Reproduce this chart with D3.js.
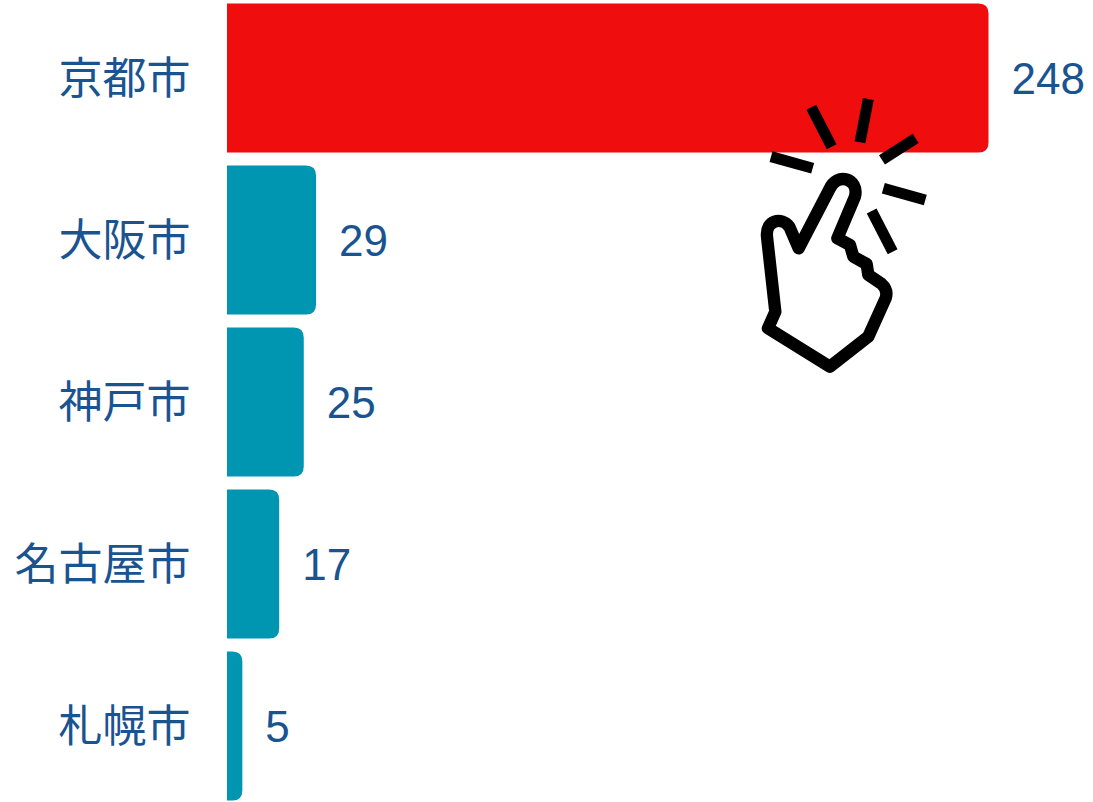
<!DOCTYPE html>
<html>
<head>
<meta charset="utf-8">
<script src="https://cdn.jsdelivr.net/npm/d3@7/dist/d3.min.js"></script>
<style>
    html, body { margin: 0; padding: 0; background: #fff; overflow: hidden; }
    svg { display: block; }
    text { font-family: "Liberation Sans", "Noto Sans CJK JP", sans-serif; }
</style>
</head>
<body>
<svg id="chart" width="1093" height="802"></svg>
<script>
var cities = ['京都市', '大阪市', '神戸市', '名古屋市', '札幌市'];
var counts = [248, 29, 25, 17, 5];
var highlighted = ['京都市'];

var textColor = '#1a5490',
    barColor = '#0096b2',
    highlightColor = '#ef0d0d',
    fontSize = 44,
    radius = 10;

var svg = d3.select('#chart');

var x = d3.scaleLinear().domain([0, 248]).range([227, 988.5]);
var y = d3.scaleBand().domain(cities).range([3.5, 800.5]).paddingInner(0.08);

// bar with only the right corners rounded
function barPath(value, city) {
    var x0 = x(0), x1 = x(value), y0 = y(city), y1 = y0 + y.bandwidth();
    var r = Math.min(radius, x1 - x0);
    return 'M' + x0 + ',' + y0 +
        'H' + (x1 - r) +
        'Q' + x1 + ',' + y0 + ' ' + x1 + ',' + (y0 + r) +
        'V' + (y1 - r) +
        'Q' + x1 + ',' + y1 + ' ' + (x1 - r) + ',' + y1 +
        'H' + x0 + 'Z';
}

svg.append('g').selectAll('path')
    .data(cities)
    .enter().append('path')
    .attr('d', function (d, i) { return barPath(counts[i], d); })
    .attr('fill', function (d) { return highlighted.indexOf(d) >= 0 ? highlightColor : barColor; });

var axis = svg.append('g')
    .attr('transform', 'translate(190.5,2)')
    .call(d3.axisLeft(y).tickSize(0).tickPadding(0));
axis.select('.domain').remove();
axis.selectAll('text')
    .attr('fill', textColor)
    .style('font-size', fontSize + 'px')
    .style('font-family', '"Liberation Sans", "Noto Sans CJK JP", sans-serif');

svg.append('g').selectAll('text')
    .data(cities)
    .enter().append('text')
    .attr('x', function (d, i) { return x(counts[i]) + 23; })
    .attr('y', function (d) { return y(d) + y.bandwidth() / 2 + 0.5; })
    .attr('dy', '.35em')
    .attr('fill', textColor)
    .style('font-size', fontSize + 'px')
    .text(function (d, i) { return counts[i]; });

// tapping hand icon, drawn in its own local units
var icon = svg.append('g')
    .attr('transform', 'translate(740,80) scale(0.3333)')
    .attr('fill', 'none')
    .attr('stroke', '#000');

icon.append('path')
    .attr('stroke-width', 37)
    .attr('stroke-linejoin', 'round')
    .attr('d', 'M84,745 L106,695 L81,470 C76,420 125,410 148,440 L176,505 L268,328 ' +
        'C290,275 358,295 345,350 L292,475 L330,495 L340,530 L380,552 L385,585 ' +
        'L425,612 Q445,630 437,655 L385,770 L270,860 Z');

icon.selectAll('line')
    .data([
        [214, 82, 275, 200],
        [385, 57, 360, 187],
        [527, 175, 426, 240],
        [93, 230, 218, 265],
        [430, 325, 556, 360],
        [395, 393, 458, 515]
    ])
    .enter().append('line')
    .attr('stroke-width', 33)
    .attr('x1', function (d) { return d[0]; })
    .attr('y1', function (d) { return d[1]; })
    .attr('x2', function (d) { return d[2]; })
    .attr('y2', function (d) { return d[3]; });
</script>
</body>
</html>
